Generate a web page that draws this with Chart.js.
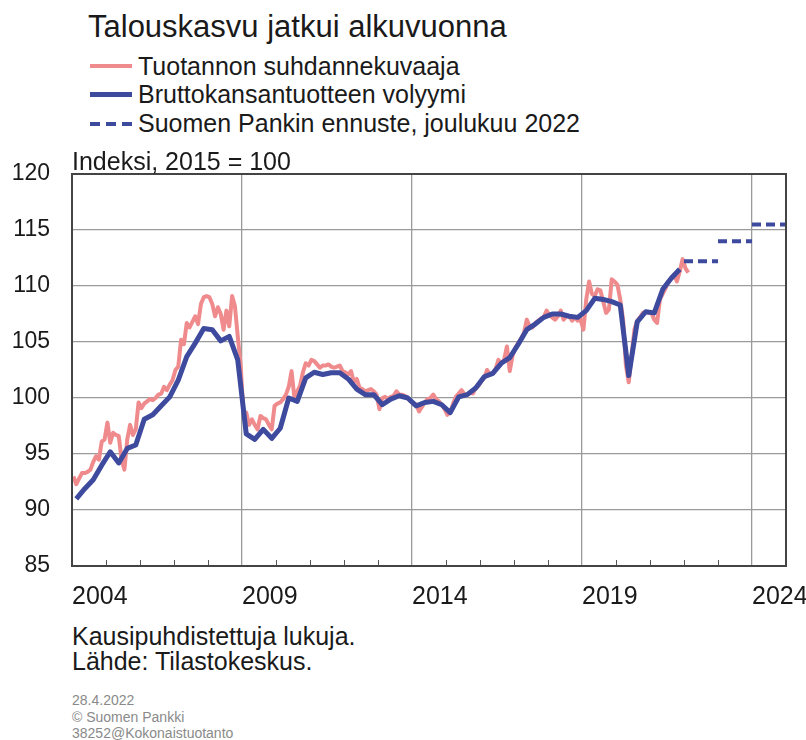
<!DOCTYPE html>
<html lang="fi">
<head>
<meta charset="utf-8">
<title>Talouskasvu jatkui alkuvuonna</title>
<script src="https://cdn.jsdelivr.net/npm/chart.js@4.4.1/dist/chart.umd.min.js"></script>
<style>
  html, body { margin: 0; padding: 0; background: #fff; }
  body { width: 806px; height: 740px; position: relative; overflow: hidden;
         font-family: "Liberation Sans", Arial, sans-serif; color: #1a1a1a; }
  .txt { position: absolute; white-space: nowrap; line-height: 1; z-index: 2; }
  #title { left: 88px; top: 11px; font-size: 31px; }
  .legend-row { position: absolute; left: 90px; height: 25px; font-size: 25px; line-height: 25px; white-space: nowrap; }
  .legend-row .mark { position: absolute; left: 0; width: 42px; }
  .legend-row .label { position: absolute; left: 48px; top: 0; }
  #wrap { position: absolute; left: 0; top: 150px; width: 806px; height: 470px; z-index: 1; }
  #unit { left: 72px; top: 149px; font-size: 25px; }
  #note1 { left: 72px; top: 624px; font-size: 25px; }
  #note2 { left: 72px; top: 649px; font-size: 25px; }
  .small { left: 72px; font-size: 14px; color: #8a8a8a; }
</style>
</head>
<body>

<div id="title" class="txt">Talouskasvu jatkui alkuvuonna</div>

<div class="legend-row" style="top:54px">
  <span class="mark" style="top:10px;height:4px;background:#f08b8d"></span>
  <span class="label">Tuotannon suhdannekuvaaja</span>
</div>
<div class="legend-row" style="top:82px">
  <span class="mark" style="top:10px;height:5px;background:#3d4a9e"></span>
  <span class="label">Bruttokansantuotteen volyymi</span>
</div>
<div class="legend-row" style="top:111px">
  <span class="mark" style="top:11px;height:4px;background:repeating-linear-gradient(to right,#3d4a9e 0 10px,transparent 10px 16px)"></span>
  <span class="label">Suomen Pankin ennuste, joulukuu 2022</span>
</div>

<div id="unit" class="txt">Indeksi, 2015 = 100</div>

<div id="wrap"><canvas id="chart" width="806" height="470"></canvas></div>

<div id="note1" class="txt">Kausipuhdistettuja lukuja.</div>
<div id="note2" class="txt">Lähde: Tilastokeskus.</div>

<div class="txt small" style="top:693px">28.4.2022</div>
<div class="txt small" style="top:710px">© Suomen Pankki</div>
<div class="txt small" style="top:726px">38252@Kokonaistuotanto</div>

<script>
const startYear = 2004;
const endYear = 2025;
const yearLabels = [2004, 2009, 2014, 2019, 2024];

// Tuotannon suhdannekuvaaja, monthly from 1/2004
const trendValues = [
    93.0, 92.3, 92.8, 93.3, 93.3, 93.4, 93.6, 94.3, 94.8, 94.5, 96.1, 96.3,
    97.8, 96.0, 96.9, 96.7, 96.6, 94.5, 93.6, 96.3, 97.6, 96.7, 97.2, 99.6,
    99.1, 99.5, 99.7, 99.9, 99.8, 100.0, 100.3, 100.4, 101.0, 100.7, 101.2, 101.6,
    102.5, 102.8, 105.2, 104.8, 106.7, 106.3, 106.8, 107.3, 106.6, 108.4, 109.0, 109.1,
    109.0, 108.4, 107.3, 108.1, 107.5, 106.1, 107.8, 106.4, 109.1, 108.2, 105.5, 103.0,
    98.7, 98.7, 97.6, 98.1, 97.6, 97.2, 98.4, 98.2, 98.1, 97.6, 97.2, 99.3,
    99.5, 99.6, 99.9, 100.3, 101.0, 102.4, 100.0, 100.6, 101.1, 102.3, 103.1, 102.9,
    103.4, 103.3, 103.0, 102.7, 102.9, 102.9, 103.0, 102.8, 102.7, 102.8, 102.9, 102.4,
    102.3, 102.1, 102.4, 101.4, 101.7, 100.9, 100.8, 100.6, 100.7, 100.8, 100.6, 100.3,
    99.0, 100.0, 100.1, 99.9, 100.1, 100.2, 100.6, 100.3, 100.3, 100.2, 100.0, 99.7,
    99.5, 99.4, 98.8, 99.2, 99.6, 99.9, 100.0, 100.3, 99.9, 99.7, 99.4, 99.0,
    98.5, 98.7, 99.5, 100.1, 100.4, 100.7, 100.3, 100.3, 100.5, 100.4, 100.9, 101.1,
    101.5, 101.8, 102.5, 102.1, 102.2, 102.6, 103.4, 103.1, 103.4, 104.6, 102.4, 103.8,
    104.5, 104.9, 105.3, 105.8, 107.0, 106.4, 106.3, 106.7, 106.9, 107.1, 107.2, 107.8,
    107.4, 107.2, 107.0, 107.3, 107.8, 107.0, 107.3, 107.3, 106.9, 107.2, 106.9, 107.0,
    106.1, 108.8, 110.4, 109.3, 109.1, 109.7, 109.6, 108.6, 107.6, 107.9, 110.6, 110.4,
    110.1, 108.8, 107.0, 102.9, 101.4, 103.8, 106.1, 106.9, 107.2, 107.6, 107.7, 107.6,
    107.6, 107.0, 106.7, 108.8, 109.3, 109.8, 110.4, 110.7, 111.0, 110.4, 111.3, 112.4,
    111.6, 111.2
];

// Bruttokansantuotteen volyymi, quarterly from Q1/2004
const gdpValues = [
    91.0, 91.9, 92.7, 94.0,
    95.2, 94.2, 95.5, 95.8,
    98.1, 98.5, 99.3, 100.1,
    101.6, 103.7, 104.9, 106.2,
    106.1, 105.1, 105.5, 103.4,
    96.8, 96.3, 97.2, 96.4,
    97.3, 100.0, 99.7, 101.8,
    102.3, 102.1, 102.25, 102.25,
    101.7, 100.8, 100.3, 100.3,
    99.4, 99.9, 100.2, 100.0,
    99.3, 99.6, 99.7, 99.4,
    98.7, 100.1, 100.3, 100.9,
    101.9, 102.2, 103.1, 103.6,
    104.8, 106.1, 106.6, 107.2,
    107.5, 107.5, 107.3, 107.2,
    107.8, 108.9, 108.8, 108.6,
    108.3, 102.0, 106.8, 107.7,
    107.6, 109.7, 110.7, 111.5
];

// Suomen Pankin ennuste, annual
const forecastYears = [2022, 2023, 2024];
const forecastValues = [112.2, 114.0, 115.5];

const trendPoints = trendValues.map((v, i) => ({ x: startYear + (i + 0.5) / 12, y: v }));
const gdpPoints = gdpValues.map((v, i) => ({ x: startYear + (i + 0.5) / 4, y: v }));
const forecastPoints = [];
forecastYears.forEach((year, i) => {
    forecastPoints.push({ x: year, y: forecastValues[i] });
    forecastPoints.push({ x: year + 1, y: forecastValues[i] });
    forecastPoints.push({ x: year + 1, y: null });
});

const frame = {
    id: 'frame',
    afterDraw(chart) {
        const ctx = chart.ctx;
        const a = chart.chartArea;
        const x = chart.scales.x;
        ctx.save();
        ctx.strokeStyle = '#555';
        ctx.lineWidth = 1;
        for (let year = startYear + 1; year < endYear; year++) {
            if (yearLabels.includes(year)) continue;
            const px = Math.round(x.getPixelForValue(year)) + 0.5;
            ctx.beginPath();
            ctx.moveTo(px, a.bottom);
            ctx.lineTo(px, a.bottom - 6);
            ctx.stroke();
        }
        ctx.strokeStyle = '#444';
        ctx.lineWidth = 2;
        ctx.strokeRect(a.left, a.top, a.right - a.left, a.bottom - a.top);
        ctx.restore();
    }
};

Chart.defaults.font.family = '"Liberation Sans", Arial, sans-serif';
Chart.defaults.color = '#1a1a1a';

const chart = new Chart(document.getElementById('chart'), {
    type: 'line',
    data: {
        datasets: [
            {
                label: 'Bruttokansantuotteen volyymi',
                data: gdpPoints,
                borderColor: '#3d4a9e',
                borderWidth: 5,
                borderJoinStyle: 'round',
                order: 0
            },
            {
                label: 'Suomen Pankin ennuste, joulukuu 2022',
                data: forecastPoints,
                borderColor: '#3d4a9e',
                borderWidth: 4,
                borderDash: [9, 5],
                spanGaps: false,
                order: 0
            },
            {
                label: 'Tuotannon suhdannekuvaaja',
                data: trendPoints,
                borderColor: '#f08b8d',
                borderWidth: 4,
                borderJoinStyle: 'round',
                order: 1
            }
        ]
    },
    options: {
        responsive: false,
        animation: false,
        devicePixelRatio: 1,
        layout: { padding: { top: 24, right: 20, left: 0, bottom: 0 } },
        elements: { point: { radius: 0 }, line: { tension: 0 } },
        plugins: { legend: { display: false }, tooltip: { enabled: false } },
        scales: {
            x: {
                type: 'linear',
                min: startYear,
                max: endYear,
                afterFit: scale => { scale.height = 54; },
                ticks: {
                    stepSize: 1,
                    autoSkip: false,
                    maxRotation: 0,
                    align: 'start',
                    padding: 16,
                    font: { size: 25 },
                    callback: v => yearLabels.includes(v) ? String(v) : ''
                },
                grid: {
                    drawTicks: false,
                    lineWidth: 1.3,
                    color: c => (c.tick && yearLabels.includes(c.tick.value)) ? '#9a9a9a' : 'rgba(0,0,0,0)'
                },
                border: { display: false }
            },
            y: {
                min: 85,
                max: 120,
                afterFit: scale => {
                    scale.width = 72;
                    scale.paddingTop = 0;
                    scale.paddingBottom = 0;
                },
                ticks: { stepSize: 5, padding: 22, font: { size: 23 } },
                grid: { drawTicks: false, lineWidth: 1.3, color: '#9a9a9a' },
                border: { display: false }
            }
        }
    },
    plugins: [frame]
});
</script>
</body>
</html>
